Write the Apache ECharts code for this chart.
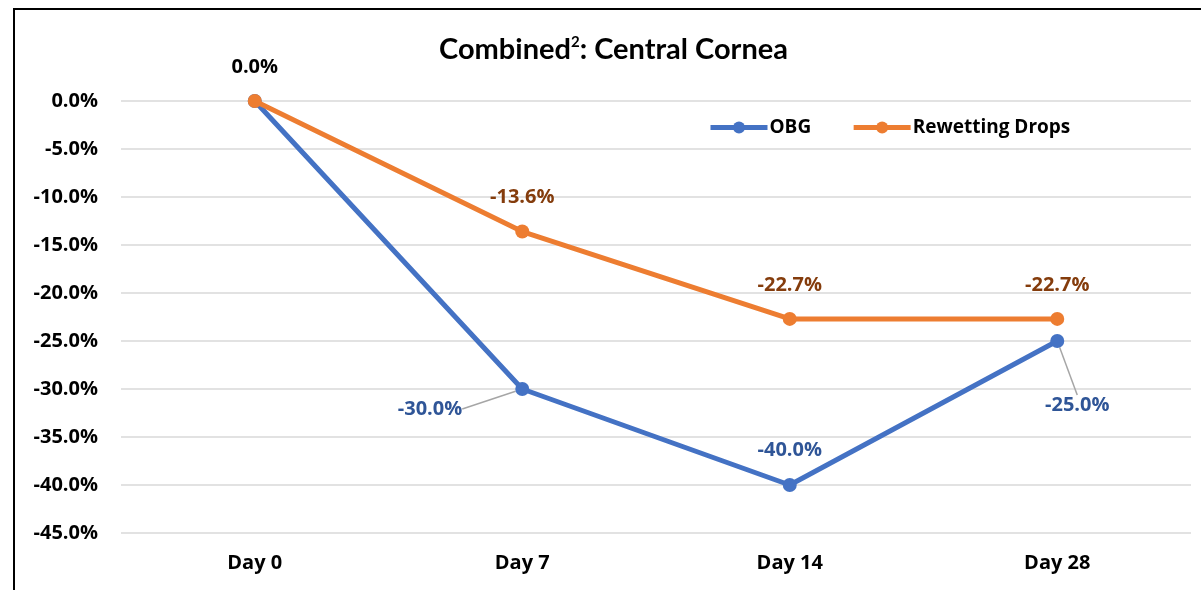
<!DOCTYPE html>
<html><head><meta charset="utf-8">
<script src="https://cdn.jsdelivr.net/npm/echarts@6/dist/echarts.min.js"></script>
<style>html,body{margin:0;padding:0;background:#fff}#c{width:1201px;height:590px}</style>
</head><body><div id="c"></div>
<script>
const categories = ['Day 0', 'Day 7', 'Day 14', 'Day 28'];
const obg = [0, -30.0, -40.0, -25.0];
const rewetting = [0, -13.6, -22.7, -22.7];
const seriesNames = ['OBG', 'Rewetting Drops'];
const yMin = -45, yMax = 0, yStep = 5;

const FONT = 'Open Sans';
const fmt = v => v.toFixed(1) + '%';

const obgLabelStyle = [
  { label: { show: false } },
  { label: { show: true, position: 'left', distance: 5 } },
  { label: { show: true, position: 'top', distance: 18 }, labelLine: { show: false } },
  { label: { show: true, position: 'bottom', distance: 5 } }
];

const chart = echarts.init(document.getElementById('c'), null, { renderer: 'canvas' });
chart.setOption({
  backgroundColor: '#fff',
  animation: false,
  title: {
    text: '{a|Combined}{s|2}{a|: Central Cornea}',
    left: 434, top: 30,
    textStyle: {
      rich: {
        a: { fontFamily: 'Lato', fontWeight: 'bold', fontSize: 29, color: '#000' },
        s: { fontFamily: 'Lato', fontWeight: 'bold', fontSize: 15, color: '#000', verticalAlign: 'top', padding: [0, 0, 14, 0] }
      }
    }
  },
  legend: {
    left: 708, top: 118, padding: 0,
    itemWidth: 57, itemHeight: 15, itemGap: 40,
    lineStyle: { width: 5 },
    textStyle: { fontFamily: FONT, fontWeight: 'bold', fontSize: 19, color: '#000', padding: [0, 0, 0, -3] },
    data: seriesNames
  },
  grid: { left: 121, right: 10, top: 101, bottom: 57, containLabel: false },
  xAxis: {
    type: 'category', data: categories,
    axisLine: { show: false }, axisTick: { show: false },
    axisLabel: { fontFamily: FONT, fontWeight: 'bold', fontSize: 20, color: '#000', margin: 20 }
  },
  yAxis: {
    type: 'value', min: yMin, max: yMax, interval: yStep,
    axisLine: { show: false }, axisTick: { show: false },
    splitLine: { lineStyle: { color: '#d9d9d9', width: 1.5 } },
    axisLabel: { fontFamily: FONT, fontWeight: 'bold', fontSize: 20, color: '#000', margin: 23, formatter: fmt }
  },
  graphic: [
    { type: 'line', shape: { x1: 14, y1: 9, x2: 14, y2: 590 }, style: { stroke: '#000', lineWidth: 2 } },
    { type: 'line', shape: { x1: 13, y1: 9, x2: 1201, y2: 9 }, style: { stroke: '#000', lineWidth: 2 } }
  ],
  series: [
    {
      name: seriesNames[0], type: 'line', z: 2,
      data: obg.map((v, i) => Object.assign({ value: v }, obgLabelStyle[i])),
      symbol: 'circle', symbolSize: 14,
      lineStyle: { color: '#4472C4', width: 5 },
      itemStyle: { color: '#4472C4' },
      label: { show: true, formatter: p => fmt(p.value), fontFamily: FONT, fontWeight: 'bold', fontSize: 20, color: '#2F5597' },
      labelLine: { show: true, lineStyle: { color: '#a6a6a6', width: 1.5 } },
      labelLayout: function (p) {
        if (p.dataIndex === 1) return { dx: -48, dy: 20 };
        if (p.dataIndex === 3) return { dx: 20, dy: 42 };
        return {};
      }
    },
    {
      name: seriesNames[1], type: 'line', z: 3,
      data: rewetting.map((v, i) => ({ value: v, label: i === 0 ? { color: '#000' } : {} })),
      symbol: 'circle', symbolSize: 14,
      lineStyle: { color: '#ED7D31', width: 5 },
      itemStyle: { color: '#ED7D31' },
      label: { show: true, position: 'top', distance: 17, formatter: p => fmt(p.value), fontFamily: FONT, fontWeight: 'bold', fontSize: 20, color: '#843C0C' }
    }
  ]
});
</script></body></html>
